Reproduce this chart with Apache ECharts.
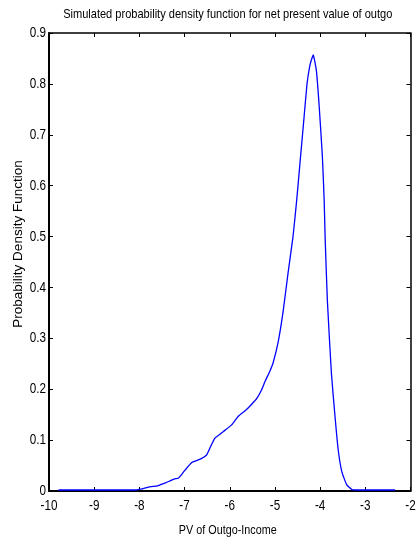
<!DOCTYPE html>
<html>
<head>
<meta charset="utf-8">
<script src="https://cdn.jsdelivr.net/npm/echarts@6/dist/echarts.min.js"></script>
<style>
html,body{margin:0;padding:0;background:#fff;}
#chart{width:416px;height:543px;}
</style>
</head>
<body>
<div id="chart"></div>
<script>
const pvValues = [-9.79,-9.0,-8.5,-8.1,-8.0,-7.9,-7.77,-7.6,-7.54,-7.42,-7.32,-7.22,-7.14,-7.07,-6.99,-6.84,-6.72,-6.62,-6.51,-6.42,-6.33,-6.24,-6.14,-5.96,-5.81,-5.63,-5.50,-5.40,-5.30,-5.22,-5.11,-5.04,-4.93,-4.82,-4.71,-4.60,-4.52,-4.45,-4.36,-4.29,-4.23,-4.19,-4.15,-4.12,-4.08,-4.02,-3.95,-3.91,-3.89,-3.84,-3.75,-3.67,-3.60,-3.52,-3.41,-3.30,-3.2,-2.34];
const densityValues = [0.002,0.002,0.002,0.002,0.003,0.005,0.008,0.010,0.012,0.016,0.020,0.024,0.025,0.032,0.041,0.056,0.060,0.064,0.071,0.088,0.104,0.110,0.117,0.130,0.147,0.160,0.172,0.182,0.198,0.215,0.236,0.252,0.292,0.352,0.428,0.500,0.570,0.640,0.730,0.800,0.835,0.848,0.857,0.845,0.824,0.755,0.657,0.570,0.500,0.375,0.231,0.146,0.081,0.038,0.012,0.003,0.002,0.002];
const xTicks = [-10,-9,-8,-7,-6,-5,-4,-3,-2];
const yTicks = [0,0.1,0.2,0.3,0.4,0.5,0.6,0.7,0.8,0.9];
const titleText = 'Simulated probability density function for net present value of outgo';
const xLabel = 'PV of Outgo-Income';
const yLabel = 'Probability Density Function';

const sans = '"Liberation Sans", Arial, sans-serif';
const chart = echarts.init(document.getElementById('chart'), null, {renderer:'canvas'});
const points = pvValues.map((x,i)=>[x,densityValues[i]]);
const xMin = xTicks[0], xMax = xTicks[xTicks.length-1];
const yMin = yTicks[0], yMax = yTicks[yTicks.length-1];

function xAx(pos){
  return {
    type:'value', position:pos, min:xMin, max:xMax, interval:1,
    axisLine:{show:true, onZero:false, lineStyle:{color:'#000', width: pos==='bottom'?2:1.5}},
    axisTick:{show:true, inside:true, length:4, lineStyle:{color:'#000', width:1}},
    axisLabel:{show:false},
    splitLine:{show:false}
  };
}
function yAx(pos){
  return {
    type:'value', position:pos, min:yMin, max:yMax, interval:0.1,
    axisLine:{show:true, onZero:false, lineStyle:{color:'#000', width: pos==='left'?2:1.5}},
    axisTick:{show:true, inside:true, length:4, lineStyle:{color:'#000', width:1}},
    axisLabel:{show:false},
    splitLine:{show:false}
  };
}

chart.setOption({
  animation:false,
  backgroundColor:'#fff',
  grid:{left:49, right:5.5, top:33, bottom:52, containLabel:false},
  xAxis:[xAx('bottom'), xAx('top')],
  yAxis:[yAx('left'), yAx('right')],
  series:[{
    type:'line', xAxisIndex:0, yAxisIndex:0, data:points, showSymbol:false,
    smooth:0.15, lineStyle:{color:'#0000ff', width:1.3}, z:3
  }]
});

// Text drawn as graphic text (narrowed via scaleX), positioned through the axis scales
const graphics = [];
const axisBottomPx = chart.convertToPixel({yAxisIndex:0}, yMin);
const axisLeftPx = chart.convertToPixel({xAxisIndex:0}, xMin);
const axisRightPx = chart.convertToPixel({xAxisIndex:0}, xMax);
const axisTopPx = chart.convertToPixel({yAxisIndex:0}, yMax);
xTicks.forEach(v=>{
  const px = chart.convertToPixel({xAxisIndex:0}, v);
  graphics.push({type:'text', x:px, y:axisBottomPx+7, scaleX:0.78,
    style:{text:String(v), fontFamily:sans, fontSize:15, fill:'#000', align:'center', verticalAlign:'top'}});
});
yTicks.forEach(v=>{
  const py = chart.convertToPixel({yAxisIndex:0}, v);
  graphics.push({type:'text', x:axisLeftPx-3, y:py, scaleX:0.78,
    style:{text:String(Math.round(v*10)/10), fontFamily:sans, fontSize:15, fill:'#000', align:'right', verticalAlign:'middle'}});
});
const centerX = (axisLeftPx+axisRightPx)/2 - 2;
graphics.push({type:'text', x:centerX, y:axisTopPx-19, scaleX:0.85,
  style:{text:titleText, fontFamily:sans, fontSize:13, fill:'#000', align:'center', verticalAlign:'middle'}});
graphics.push({type:'text', x:centerX, y:axisBottomPx+39, scaleX:0.83,
  style:{text:xLabel, fontFamily:sans, fontSize:13, fill:'#000', align:'center', verticalAlign:'middle'}});
graphics.push({type:'text', x:18, y:244, rotation:Math.PI/2,
  style:{text:yLabel, fontFamily:sans, fontSize:13.5, fill:'#000', align:'center', verticalAlign:'middle'}});
chart.setOption({graphic:graphics});
</script>
</body>
</html>
